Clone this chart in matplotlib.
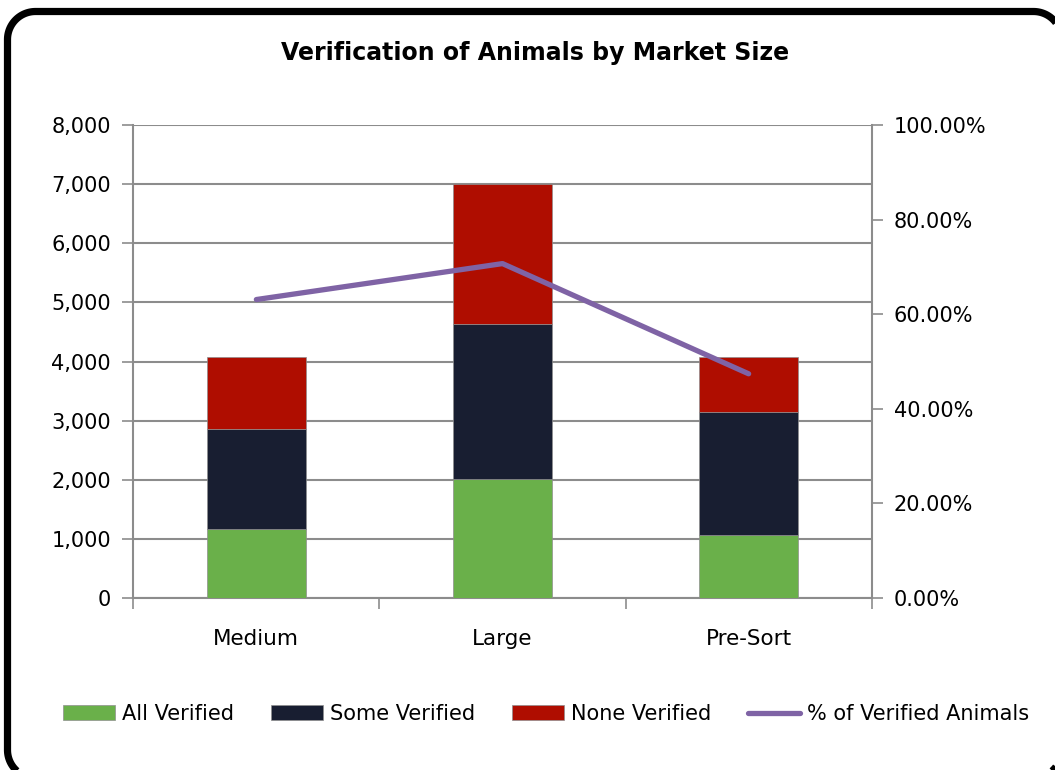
import matplotlib.pyplot as plt
import matplotlib.patches as mpatches
import matplotlib.transforms as mtransforms
from matplotlib.ticker import FuncFormatter, MultipleLocator
import numpy as np

# data
categories = ["Medium", "Large", "Pre-Sort"]
all_verified = [1170, 2010, 1060]
some_verified = [1690, 2625, 2090]
none_verified = [1220, 2365, 930]
pct_verified = [0.631, 0.707, 0.474]

green = "#6AB04A"
navy = "#181E31"
red = "#AF0D00"
purple = "#7F63A5"
grid_gray = "#8C8C8C"

plt.rcParams["font.family"] = ["DejaVu Sans"]

fig = plt.figure(figsize=(10.55, 7.7), dpi=100)
ax = fig.add_axes([133.3 / 1055, 172 / 770, 738.4 / 1055, 473 / 770])

x = np.arange(len(categories))
w = 0.4
edge = dict(edgecolor="#8f8f8f", linewidth=0.5)
b1 = ax.bar(x, all_verified, w, color=green, label="All Verified", zorder=3, **edge)
bottom2 = np.array(all_verified)
b2 = ax.bar(x, some_verified, w, bottom=bottom2, color=navy, label="Some Verified", zorder=3, **edge)
bottom3 = bottom2 + np.array(some_verified)
b3 = ax.bar(x, none_verified, w, bottom=bottom3, color=red, label="None Verified", zorder=3, **edge)

ax.set_xlim(-0.5, 2.5)
ax.set_ylim(0, 8000)
ax.yaxis.set_major_locator(MultipleLocator(1000))
ax.yaxis.set_major_formatter(FuncFormatter(lambda v, p: f"{int(v):,}"))
ax.grid(axis="y", color=grid_gray, linewidth=1.5, zorder=0)
ax.set_xticks(x)
ax.set_xticklabels(categories)
ax.tick_params(axis="x", length=0, pad=22, labelsize=15.5)
ax.set_xticks([-0.5, 0.5, 1.5, 2.5], minor=True)
ax.tick_params(axis="x", which="minor", length=8, width=1.2, color=grid_gray, direction="out")
ax.tick_params(axis="y", length=8, width=1.2, color=grid_gray, labelsize=15, pad=8)
for s in ["top", "right"]:
    ax.spines[s].set_visible(False)
ax.spines["left"].set_color(grid_gray)
ax.spines["bottom"].set_color(grid_gray)
ax.spines["left"].set_linewidth(1.5)
ax.spines["bottom"].set_linewidth(1.5)

ax2 = ax.twinx()
ln, = ax2.plot(x, pct_verified, color=purple, linewidth=3.8, solid_capstyle="round",
               label="% of Verified Animals", zorder=4)
ax2.set_ylim(0, 1)
ax2.yaxis.set_major_locator(MultipleLocator(0.2))
ax2.yaxis.set_major_formatter(FuncFormatter(lambda v, p: f"{v * 100:.2f}%"))
ax2.tick_params(axis="y", length=8, width=1.2, color=grid_gray, labelsize=15, pad=8)
for s in ["top", "left", "bottom"]:
    ax2.spines[s].set_visible(False)
ax2.spines["right"].set_color(grid_gray)
ax2.spines["right"].set_linewidth(1.5)

fig.text(535 / 1055, 1 - 53 / 770, "Verification of Animals by Market Size",
         ha="center", va="center", fontsize=17, fontweight="bold")

fig.legend(handles=[b1, b2, b3, ln], loc="center", bbox_to_anchor=(546 / 1055, 1 - 714 / 770),
           ncol=4, frameon=False, fontsize=15, handlelength=2.5, handleheight=0.7,
           handletextpad=0.33, columnspacing=1.78)

# rounded frame as a polygon in pixel coords (runs just past right and bottom edges)
x0, x1, y0, y1, r = 7.5, 1061.5, -8, 758.5, 28
t = np.linspace(0, np.pi / 2, 30)
pts = []
for cx, cy, a0 in [(x1 - r, y1 - r, 0), (x0 + r, y1 - r, np.pi / 2),
                   (x0 + r, y0 + r, np.pi), (x1 - r, y0 + r, 1.5 * np.pi)]:
    pts += list(zip(cx + r * np.cos(a0 + t), cy + r * np.sin(a0 + t)))
frame = mpatches.Polygon(pts, closed=True, transform=mtransforms.IdentityTransform(),
                         facecolor="none", edgecolor="black", linewidth=5.2,
                         joinstyle="round")
frame.set_in_layout(False)
fig.patches.append(frame)

fig.savefig("out.png", dpi=100)
